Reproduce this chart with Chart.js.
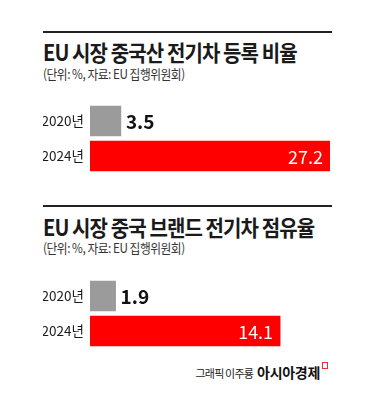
<!DOCTYPE html>
<html>
<head>
<meta charset="utf-8">
<script src="https://cdn.jsdelivr.net/npm/chart.js@4/dist/chart.umd.min.js"></script>
<style>
  body { margin: 0; width: 370px; height: 407px; background: #fff; position: relative; overflow: hidden;
         font-family: "Noto Sans CJK KR", sans-serif; color: #1a1a1a; }
  .rule { position: absolute; left: 43px; width: 289px; height: 2px; background: #222; }
  .title { position: absolute; left: 43px; font-size: 22px; font-weight: 700; letter-spacing: -1px;
           white-space: nowrap; line-height: 1; transform-origin: 0 0; transform: scaleX(.91); }
  .sub { position: absolute; left: 43px; font-size: 13px; letter-spacing: -.5px; color: #333;
         white-space: nowrap; line-height: 1; transform-origin: 0 0; transform: scaleX(.9); }
  .box { position: absolute; left: 43px; width: 287px; height: 71px; }
  .credit { position: absolute; right: 50px; top: 363px; white-space: nowrap; line-height: 1; }
  .credit .who { font-size: 11px; letter-spacing: -.8px; color: #222; margin-right: 4px; }
  .credit .brand { font-size: 14px; font-weight: 700; letter-spacing: -.3px; color: #111; }
  .mark { position: absolute; left: 322px; top: 362px; width: 4px; height: 5px; border: 1px solid #e8302a; }
</style>
</head>
<body>
<div class="rule" style="top:31px"></div>
<div class="title" style="top:40px">EU 시장 중국산 전기차 등록 비율</div>
<div class="sub" style="top:67px">(단위: %, 자료: EU 집행위원회)</div>
<div class="box" style="top:103px"><canvas id="c1" width="287" height="71"></canvas></div>

<div class="rule" style="top:205px"></div>
<div class="title" style="top:215px">EU 시장 중국 브랜드 전기차 점유율</div>
<div class="sub" style="top:241px">(단위: %, 자료: EU 집행위원회)</div>
<div class="box" style="top:278px"><canvas id="c2" width="287" height="71"></canvas></div>

<div class="credit"><span class="who">그래픽 이주룡</span><span class="brand">아시아경제</span></div>
<div class="mark"></div>

<script>
// data
var years = ['2020년', '2024년'];
var regShare = [3.5, 27.2];     // EU 시장 중국산 전기차 등록 비율
var brandShare = [1.9, 14.1];   // EU 시장 중국 브랜드 전기차 점유율
var barColors = ['#9b9b9b', '#fe0000'];

// value labels: last bar inside (white), others outside (black)
var valueLabels = {
  id: 'valueLabels',
  afterDatasetsDraw: function(chart) {
    var ctx = chart.ctx;
    var meta = chart.getDatasetMeta(0);
    var data = chart.data.datasets[0].data;
    ctx.save();
    ctx.textBaseline = 'middle';
    meta.data.forEach(function(bar, i) {
      var last = i === meta.data.length - 1;
      ctx.font = last ? '400 18px "Noto Sans CJK KR", sans-serif' : '600 19px "Noto Sans CJK KR", sans-serif';
      ctx.fillStyle = last ? '#fff' : '#111';
      ctx.textAlign = last ? 'right' : 'left';
      ctx.fillText(data[i].toFixed(1), last ? bar.x - 7 : bar.x + 5, bar.y + 1);
    });
    ctx.restore();
  }
};

function makeChart(id, values, xMax) {
  return new Chart(document.getElementById(id), {
    type: 'bar',
    data: {
      labels: years,
      datasets: [{ data: values, backgroundColor: barColors, barThickness: 30, borderWidth: 0 }]
    },
    options: {
      indexAxis: 'y',
      responsive: false,
      animation: false,
      devicePixelRatio: 1,
      layout: { padding: { top: 0.5, bottom: 0.5, left: 0, right: 0 } },
      plugins: { legend: { display: false }, tooltip: { enabled: false } },
      scales: {
        x: { display: false, min: 0, max: xMax },
        y: {
          grid: { display: false, drawTicks: false },
          border: { display: false },
          ticks: { color: '#1a1a1a', padding: 6, font: { family: '"Noto Sans CJK KR", sans-serif', size: 13.5 } },
          afterFit: function(scale) {
            scale.width = 47;
            scale.paddingTop = 0;
            scale.paddingBottom = 0;
          }
        }
      }
    },
    plugins: [valueLabels]
  });
}

makeChart('c1', regShare, 27.2);
makeChart('c2', brandShare, 17.8);
</script>
</body>
</html>
